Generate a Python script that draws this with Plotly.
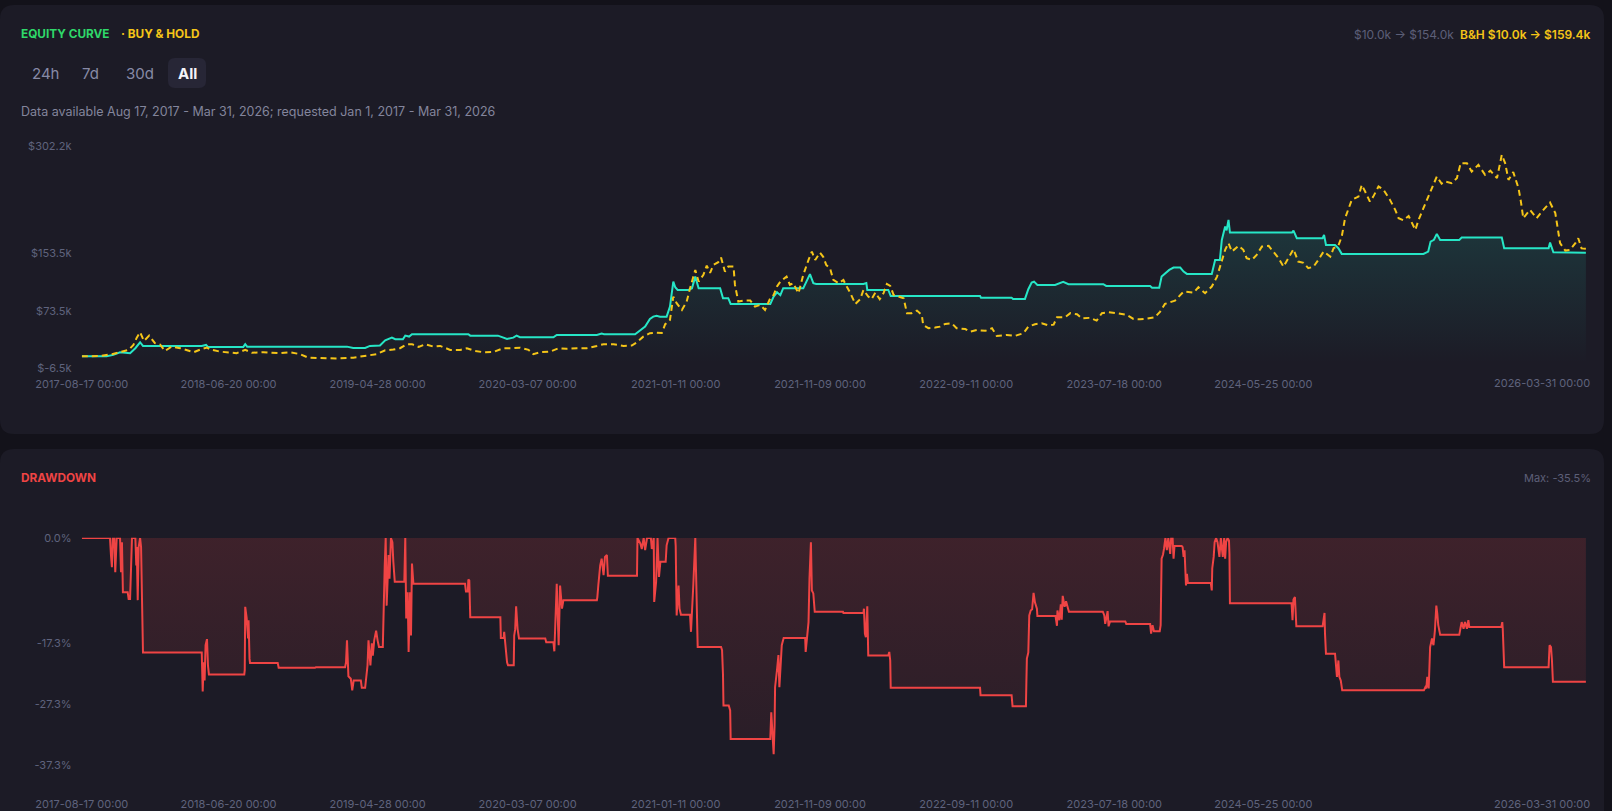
import pandas as pd
import plotly.graph_objects as go

W, H = 1612, 811
START = "2017-08-17"
END = "2026-03-31"

# strategy equity, day offset from START -> value in $k
EQUITY_DAYS = [
    0, 52, 66, 80, 101, 112, 122, 128, 251, 260, 264, 338, 342, 346, 555, 568,
    593, 603, 624, 635, 649, 656, 672, 677, 685, 691, 809, 813, 871, 890, 903, 910,
    917, 987, 994, 1078, 1088, 1093, 1158, 1169, 1179, 1189, 1196, 1203, 1210, 1224, 1231, 1238,
    1242, 1247, 1270, 1277, 1284, 1291, 1336, 1342, 1353, 1358, 1441, 1448, 1455, 1462, 1468, 1510,
    1524, 1531, 1537, 1636, 1642, 1644, 1688, 1693, 1880, 1882, 1946, 1949, 1974, 1981, 1988, 1993,
    2000, 2037, 2044, 2054, 2065, 2138, 2144, 2236, 2240, 2255, 2260, 2267, 2276, 2285, 2299, 2306,
    2313, 2365, 2372, 2382, 2386, 2393, 2396, 2400, 2403, 2533, 2536, 2543, 2597, 2600, 2604, 2623,
    2630, 2637, 2808, 2818, 2823, 2830, 2836, 2843, 2883, 2888, 2972, 2977, 3070, 3073, 3080, 3148,
]
EQUITY_K = [
    10.0, 10.0, 12.0, 15.7, 14.4, 21.3, 29.6, 24.5, 24.5, 25.9, 23.1, 23.1, 26.9, 23.5, 23.5, 21.7,
    21.7, 24.5, 25.0, 32.4, 36.0, 33.8, 33.8, 38.8, 37.5, 40.8, 40.8, 38.8, 38.8, 34.2, 36.0, 38.8,
    36.6, 36.6, 39.8, 39.8, 41.6, 40.8, 40.8, 45.8, 51.3, 62.0, 65.2, 66.5, 65.2, 65.2, 79.1, 113.9,
    106.0, 102.3, 102.3, 104.7, 120.8, 104.7, 104.7, 90.8, 90.8, 82.9, 82.9, 93.0, 99.0, 95.0, 104.7, 104.7,
    124.2, 111.7, 110.7, 110.7, 112.0, 102.3, 102.3, 94.0, 94.0, 91.6, 91.6, 89.8, 89.8, 103.3, 112.5, 113.9,
    109.3, 109.3, 111.5, 113.5, 110.3, 110.3, 107.9, 107.9, 105.5, 105.5, 120.8, 124.6, 130.1, 133.3, 133.3, 127.8,
    124.6, 124.6, 144.0, 144.0, 171.8, 190.3, 185.0, 199.6, 182.0, 182.0, 184.8, 174.2, 174.2, 178.8, 164.9, 164.9,
    160.3, 152.4, 152.4, 155.6, 169.5, 172.0, 180.2, 171.8, 171.8, 175.0, 175.0, 160.3, 160.3, 168.1, 154.7, 154.0,
]

# buy & hold, day offset -> value in $k
BH_DAYS = [
    0, 38, 63, 80, 98, 108, 115, 122, 130, 141, 153, 164, 174, 188, 206, 234,
    251, 262, 269, 289, 324, 342, 356, 380, 415, 436, 457, 474, 506, 534, 568, 597,
    617, 635, 652, 666, 680, 691, 705, 719, 736, 750, 771, 792, 806, 823, 841, 861,
    882, 900, 917, 935, 945, 959, 980, 998, 1015, 1036, 1057, 1078, 1092, 1113, 1134, 1151,
    1162, 1175, 1189, 1203, 1214, 1221, 1231, 1238, 1245, 1256, 1266, 1273, 1284, 1291, 1301, 1308,
    1315, 1322, 1332, 1338, 1346, 1353, 1364, 1367, 1374, 1385, 1399, 1409, 1420, 1430, 1441, 1448,
    1455, 1462, 1475, 1482, 1489, 1500, 1510, 1521, 1528, 1535, 1545, 1552, 1558, 1566, 1573, 1584,
    1594, 1601, 1608, 1619, 1629, 1636, 1646, 1653, 1661, 1670, 1678, 1685, 1692, 1699, 1709, 1720,
    1727, 1737, 1748, 1758, 1761, 1772, 1786, 1796, 1807, 1821, 1831, 1849, 1859, 1873, 1891, 1905,
    1915, 1936, 1953, 1971, 1981, 1995, 2009, 2023, 2034, 2041, 2058, 2069, 2083, 2093, 2110, 2124,
    2135, 2149, 2170, 2187, 2201, 2215, 2229, 2246, 2257, 2267, 2288, 2306, 2327, 2337, 2351, 2365,
    2376, 2386, 2393, 2400, 2407, 2421, 2431, 2438, 2449, 2459, 2470, 2484, 2494, 2505, 2515, 2525,
    2536, 2546, 2557, 2567, 2578, 2588, 2599, 2613, 2620, 2630, 2637, 2644, 2651, 2658, 2672, 2679,
    2686, 2696, 2703, 2714, 2724, 2738, 2749, 2756, 2766, 2777, 2791, 2798, 2808, 2818, 2826, 2836,
    2846, 2853, 2867, 2878, 2886, 2899, 2909, 2923, 2937, 2948, 2962, 2972, 2979, 2986, 2996, 3007,
    3012, 3017, 3031, 3045, 3059, 3073, 3084, 3094, 3105, 3115, 3126, 3132, 3139, 3148,
]
BH_K = [
    10.0, 10.5, 13.0, 15.7, 19.0, 25.9, 36.0, 43.5, 31.4, 38.8, 28.3, 26.4, 17.5, 23.5, 21.3, 15.7,
    20.3, 22.1, 19.5, 16.6, 14.4, 19.0, 15.0, 15.7, 14.4, 15.7, 13.0, 8.2, 7.4, 7.0, 8.2, 11.0,
    13.0, 18.5, 19.4, 21.3, 26.9, 26.9, 23.1, 26.9, 23.5, 24.5, 19.0, 19.0, 21.3, 17.5, 15.7, 16.0,
    21.3, 21.3, 22.1, 19.0, 13.0, 15.7, 16.6, 21.3, 20.5, 21.3, 21.3, 24.5, 26.9, 26.9, 24.5, 25.0,
    29.6, 37.4, 42.2, 43.0, 42.5, 54.7, 60.6, 93.0, 83.9, 74.5, 86.1, 104.7, 130.1, 113.9, 123.2, 136.1,
    126.0, 137.0, 140.8, 147.2, 127.8, 134.7, 134.7, 109.3, 86.1, 87.5, 87.5, 79.1, 81.5, 74.5, 90.8, 95.4,
    107.0, 113.9, 120.8, 109.3, 111.7, 97.8, 123.2, 144.0, 155.6, 144.0, 154.2, 148.0, 137.1, 132.5, 116.2, 111.7,
    116.2, 107.0, 98.6, 82.9, 89.4, 102.3, 93.0, 89.4, 98.6, 89.4, 97.8, 110.7, 108.0, 95.4, 93.0, 90.8,
    70.0, 70.0, 73.6, 67.6, 53.7, 49.1, 50.0, 51.3, 55.1, 55.8, 49.1, 48.0, 44.4, 46.5, 45.5, 49.1,
    38.4, 39.8, 38.4, 42.2, 51.3, 54.7, 56.1, 53.0, 54.0, 64.4, 64.4, 70.0, 68.5, 63.0, 63.5, 59.7,
    70.0, 71.3, 69.5, 67.6, 62.0, 61.5, 62.5, 64.4, 72.2, 82.9, 87.5, 100.0, 98.6, 106.0, 97.8, 107.0,
    120.8, 141.7, 158.0, 167.3, 155.6, 163.5, 158.0, 146.4, 144.0, 151.0, 162.6, 163.5, 155.6, 146.4, 134.7, 146.4,
    158.9, 141.7, 140.0, 132.5, 134.7, 144.0, 155.6, 148.6, 160.3, 164.0, 176.4, 202.0, 213.5, 227.4, 232.0, 248.3,
    239.0, 225.1, 232.0, 246.0, 242.0, 227.4, 213.5, 202.0, 199.0, 205.0, 185.7, 200.0, 215.9, 232.0, 246.0, 259.8,
    250.0, 253.0, 250.7, 257.6, 278.5, 278.5, 266.8, 276.1, 262.2, 268.0, 257.6, 290.0, 278.5, 255.2, 266.0, 243.7,
    225.1, 202.0, 213.5, 202.0, 213.5, 223.7, 209.0, 167.3, 157.0, 158.0, 167.3, 174.2, 160.0, 159.4,
]

# drawdown of the strategy, day offset -> %
DD_DAYS = [
    0, 59, 61, 63, 65, 68, 70, 72, 73, 80, 82, 84, 86, 96, 98, 101,
    103, 105, 112, 114, 115, 117, 119, 122, 124, 126, 128, 251, 253, 255, 257, 259,
    262, 264, 266, 340, 341, 342, 345, 348, 349, 351, 352, 410, 412, 488, 490, 551,
    553, 555, 558, 563, 566, 569, 584, 586, 593, 595, 598, 600, 604, 607, 609, 612,
    616, 619, 622, 630, 631, 634, 636, 638, 642, 644, 647, 650, 652, 655, 675, 677,
    679, 682, 684, 687, 689, 691, 694,
    802, 804, 808, 809, 811, 813, 876, 877, 883, 884, 886, 890, 892, 904, 905, 907,
    909, 912, 915, 970, 972, 987, 989, 991, 994, 998, 1001, 1005, 1008, 1078, 1079, 1081,
    1085, 1088, 1092, 1095, 1099, 1101, 1162, 1163, 1169, 1172, 1176, 1179, 1183, 1191, 1193, 1197,
    1198, 1202, 1205, 1208, 1211, 1222, 1224, 1228, 1242, 1243, 1245, 1249, 1251, 1254, 1273, 1275,
    1277, 1280, 1284, 1286, 1288, 1289, 1338, 1340, 1342, 1343, 1354, 1357, 1358, 1441, 1443, 1446,
    1448, 1450, 1451, 1455, 1458, 1460, 1463, 1465, 1469, 1514, 1515, 1518, 1521, 1523, 1526, 1528,
    1531, 1534, 1545,
    1593, 1594, 1636, 1637, 1639, 1641, 1644, 1646, 1688, 1690, 1692, 1693, 1880, 1881, 1946, 1948,
    1976, 1977, 1978, 1981, 1983, 1986, 1989, 1992, 1995, 1999, 2000, 2038, 2041, 2042, 2046, 2049,
    2051, 2053, 2057, 2060, 2063, 2066, 2137, 2140, 2142, 2145, 2147, 2149, 2152, 2184, 2186, 2236,
    2238, 2241, 2244, 2256, 2258, 2260, 2263, 2265, 2268, 2271, 2274, 2278, 2280, 2283, 2285, 2287,
    2302,
    2304, 2306, 2308, 2309, 2311, 2313, 2315, 2363, 2365, 2366, 2369, 2371, 2374, 2377, 2381, 2384,
    2388, 2391, 2393, 2395, 2398, 2401, 2402, 2403, 2532, 2534, 2536, 2539, 2541, 2542, 2597, 2599,
    2601, 2602, 2604, 2623, 2625, 2627, 2630, 2632, 2635, 2638, 2809, 2812, 2814, 2816, 2819, 2822,
    2826, 2829, 2832, 2835, 2837, 2839, 2843, 2883, 2886, 2888, 2892, 2895, 2899, 2902, 2904, 2971,
    2973, 2974, 2977, 3070, 3072, 3075, 3077, 3079, 3148,
]
DD_PCT = [
    0, 0, -2.8, -4.8, 0, 0, -5.6, -1.8, 0, 0, -5.6, -0.7, -8.9, -8.9, -10.0, -10.0,
    -5.5, 0, 0, -4.5, -1.5, -10.2, -1.5, 0, -1.5, -13.7, -18.8, -18.8, -25.2, -20.4, -23.4, -17.6,
    -16.6, -20.9, -22.4, -22.4, -21.7, -11.3, -13.1, -16.5, -13.5, -19.8, -20.5, -20.5, -21.3, -21.3, -21.2, -21.2,
    -20.4, -16.8, -22.7, -23.1, -25.0, -23.4, -23.4, -24.6, -24.6, -23.1, -20.9, -16.8, -20.9, -17.3, -19.3, -16.8,
    -15.2, -16.8, -17.9, -17.9, -12.7, -4.5, 0, -11.1, -2.8, -6.7, 0, -0.7, -3.9, -7.2, -7.2, 0,
    -13.2, -8.9, -18.7, -8.9, -16.0, -4.2, -7.5,
    -7.5, -8.8, -8.8, -6.8, -7.0, -13.0, -13.0, -16.4, -16.4, -15.4, -17.3, -20.4, -20.9, -20.9, -16.0, -15.0,
    -11.2, -14.9, -16.5, -16.5, -17.1, -17.1, -18.6, -15.2, -7.5, -17.6, -7.8, -11.6, -10.2, -10.2, -9.7, -7.8,
    -4.5, -3.4, -6.1, -3.1, -2.8, -6.2, -6.2, 0, -0.9, -1.8, 0, -2.0, 0, 0, -1.8, 0,
    -10.5, -7.2, 0, -6.4, -3.9, -3.9, -1.2, 0, 0, -1.3, -12.7, -7.8, -11.6, -12.6, -12.6, -15.4,
    -10.8, -7.5, 0, -5.9, -13.2, -17.9, -17.9, -18.4, -22.5, -27.5, -27.5, -28.3, -33.0, -33.0, -28.6, -31.8,
    -35.5, -30.7, -24.5, -21.7, -19.2, -24.5, -20.9, -17.6, -16.4, -16.4, -18.7, -15.7, -13.8, -6.7, -0.7, -8.6,
    -9.1, -12.1, -12.1,
    -12.1, -12.3, -12.3, -11.6, -15.7, -16.3, -11.2, -19.3, -19.3, -18.7, -20.1, -24.6, -24.6, -25.8, -25.8, -27.6,
    -27.6, -23.5, -19.8, -18.8, -12.7, -11.9, -11.7, -9.0, -10.6, -11.6, -12.8, -12.8, -14.4, -11.9, -13.5, -10.9,
    -13.4, -9.5, -11.3, -10.4, -11.3, -12.1, -12.1, -12.7, -14.1, -12.7, -12.0, -14.5, -13.7, -13.7, -14.1, -14.1,
    -15.7, -14.3, -15.3, -15.3, -14.3, -3.4, -2.7, -1.8, 0, -2.0, 0, -2.6, 0, 0, -3.4, -1.3,
    -1.3,
    -1.5, -3.1, -2.0, -3.9, -7.8, -5.9, -7.4, -7.4, -8.6, -5.0, -3.1, -0.7, 0, -0.7, -3.1, 0,
    -3.1, 0, -3.4, -0.7, 0, -0.4, -2.6, -10.7, -10.7, -13.5, -10.1, -9.7, -12.4, -14.5, -14.5, -13.5,
    -12.3, -15.7, -19.0, -19.0, -21.2, -22.8, -20.1, -22.8, -23.4, -25.0, -25.0, -24.5, -24.7, -22.8, -24.7, -17.9,
    -16.5, -17.6, -15.2, -11.1, -12.4, -14.3, -15.9, -15.9, -14.6, -13.8, -14.9, -13.8, -14.9, -13.5, -14.6, -14.6,
    -13.8, -14.9, -21.2, -21.2, -17.6, -17.9, -20.1, -23.6, -23.6,
]

X_TICKS = ["2017-08-17", "2018-06-20", "2019-04-28", "2020-03-07", "2021-01-11",
           "2021-11-09", "2022-09-11", "2023-07-18", "2024-05-25"]
EQ_TICKS = [-6.5, 73.5, 153.5, 302.2]
EQ_TICK_TEXT = ["$-6.5k", "$73.5k", "$153.5k", "$302.2k"]
DD_TICKS = [0.0, -17.3, -27.3, -37.3]
DD_TICK_TEXT = ["0.0%", "-17.3%", "-27.3%", "-37.3%"]

PAGE_BG = "#13121a"
CARD_BG = "#1c1b26"
TEAL = "#26e6c6"
GOLD = "#f5c518"
RED = "#ef4444"
AXIS_TXT = "#5f637d"
FONT = "Inter"


def to_dates(days):
    return pd.Timestamp(START) + pd.to_timedelta(days, unit="D")


def px(x):
    return x / W


def py(y):
    return 1 - y / H


def rounded_box(x0, y0, x1, y1, r):
    # rounded rectangle in pixel coords -> svg path in paper coords
    pts = [
        f"M {px(x0 + r)},{py(y0)}",
        f"L {px(x1 - r)},{py(y0)}",
        f"Q {px(x1)},{py(y0)} {px(x1)},{py(y0 + r)}",
        f"L {px(x1)},{py(y1 - r)}",
        f"Q {px(x1)},{py(y1)} {px(x1 - r)},{py(y1)}",
        f"L {px(x0 + r)},{py(y1)}",
        f"Q {px(x0)},{py(y1)} {px(x0)},{py(y1 - r)}",
        f"L {px(x0)},{py(y0 + r)}",
        f"Q {px(x0)},{py(y0)} {px(x0 + r)},{py(y0)}",
        "Z",
    ]
    return " ".join(pts)


eq_x = to_dates(EQUITY_DAYS)
bh_x = to_dates(BH_DAYS)
dd_x = to_dates(DD_DAYS)

fig = go.Figure()

fig.add_trace(go.Scatter(
    x=eq_x, y=EQUITY_K, mode="lines", name="Equity",
    line=dict(color=TEAL, width=2),
    fill="tozeroy",
    fillgradient=dict(type="vertical",
                      colorscale=[[0, "rgba(38,230,198,0.0)"], [1, "rgba(38,230,198,0.14)"]]),
    xaxis="x", yaxis="y",
))
fig.add_trace(go.Scatter(
    x=bh_x, y=BH_K, mode="lines", name="Buy & Hold",
    line=dict(color=GOLD, width=2, dash="6px,4px"),
    xaxis="x", yaxis="y",
))
fig.add_trace(go.Scatter(
    x=dd_x, y=DD_PCT, mode="lines", name="Drawdown",
    line=dict(color=RED, width=2),
    fill="tozeroy",
    fillgradient=dict(type="vertical",
                      colorscale=[[0, "rgba(239,68,68,0.06)"], [1, "rgba(239,68,68,0.16)"]]),
    xaxis="x2", yaxis="y2",
))

x_range = [pd.Timestamp(START) - pd.Timedelta(hours=6), pd.Timestamp(END) + pd.Timedelta(hours=6)]
x_common = dict(
    type="date", range=x_range, domain=[px(81.7), px(1586)], automargin=False,
    tickvals=X_TICKS, ticktext=[d + " 00:00" for d in X_TICKS],
    showgrid=False, zeroline=False, showline=False,
    ticks="outside", ticklen=5, tickcolor="rgba(0,0,0,0)",
    tickfont=dict(family=FONT, size=11, color=AXIS_TXT),
)
y_common = dict(
    showgrid=False, zeroline=False, showline=False, automargin=False,
    ticks="outside", ticklen=7, tickcolor="rgba(0,0,0,0)",
    tickfont=dict(family=FONT, size=11, color=AXIS_TXT),
)

shapes = [
    dict(type="path", path=rounded_box(0, 5, 1604, 434, 14), xref="paper", yref="paper",
         fillcolor=CARD_BG, line=dict(width=0), layer="below"),
    dict(type="path", path=rounded_box(0, 449, 1604, 830, 14), xref="paper", yref="paper",
         fillcolor=CARD_BG, line=dict(width=0), layer="below"),
    dict(type="path", path=rounded_box(168, 58, 206, 88, 7), xref="paper", yref="paper",
         fillcolor="#272636", line=dict(width=0), layer="below"),
]


def label(x, y, text, color, size=11, weight=400, anchor="left"):
    return dict(
        x=px(x), y=py(y), xref="paper", yref="paper", text=text, showarrow=False,
        xanchor=anchor, yanchor="middle",
        font=dict(family=FONT, size=size, color=color, weight=weight),
    )


annotations = [
    label(19, 34, "EQUITY CURVE", "#2fd86a", 11.8, 700),
    label(119, 34, "· BUY &amp; HOLD", GOLD, 11.8, 700),
    label(30, 73, "24h", "#878aa6", 15),
    label(80, 73, "7d", "#878aa6", 15),
    label(124, 73, "30d", "#878aa6", 15),
    label(176, 73, "All", "#f4f4f8", 15, 700),
    label(19, 112, "Data available Aug 17, 2017 - Mar 31, 2026; requested Jan 1, 2017 - Mar 31, 2026",
          "#83859c", 12.5),
    label(1456, 34, "$10.0k → $154.0k", "#5c5f78", 12, anchor="right"),
    label(1593, 34, "B&amp;H $10.0k → $159.4k", GOLD, 12, 600, anchor="right"),
    label(19, 478, "DRAWDOWN", RED, 11.8, 700),
    label(1593, 478, "Max: -35.5%", "#5c5f78", 11, anchor="right"),
]
# last time label sits clamped at the right edge
for xref, ypx in (("x", 383), ("x2", 804)):
    annotations.append(dict(
        x=END, y=py(ypx), xref=xref, yref="paper", text=END + " 00:00", showarrow=False,
        xanchor="right", yanchor="middle", xshift=6,
        font=dict(family=FONT, size=11, color=AXIS_TXT),
    ))

fig.update_layout(
    width=W, height=H, margin=dict(l=0, r=0, t=0, b=0, autoexpand=False),
    paper_bgcolor=PAGE_BG, plot_bgcolor="rgba(0,0,0,0)",
    showlegend=False, hovermode="x unified",
    font=dict(family=FONT, size=11, color=AXIS_TXT),
    xaxis=dict(anchor="y", **x_common),
    yaxis=dict(anchor="x", domain=[py(368.3), py(146)], range=[-6.6, 302.3],
               tickvals=EQ_TICKS, ticktext=EQ_TICK_TEXT, **y_common),
    xaxis2=dict(anchor="y2", **x_common),
    yaxis2=dict(anchor="x2", domain=[py(789), py(537.7)], range=[-41.2, 0.05],
                tickvals=DD_TICKS, ticktext=DD_TICK_TEXT, **y_common),
    shapes=shapes,
    annotations=annotations,
)

fig.write_html(
    "out.html",
    config={"displayModeBar": False},
    post_script="document.body.style.margin='0';document.body.style.background='%s';" % PAGE_BG,
)
